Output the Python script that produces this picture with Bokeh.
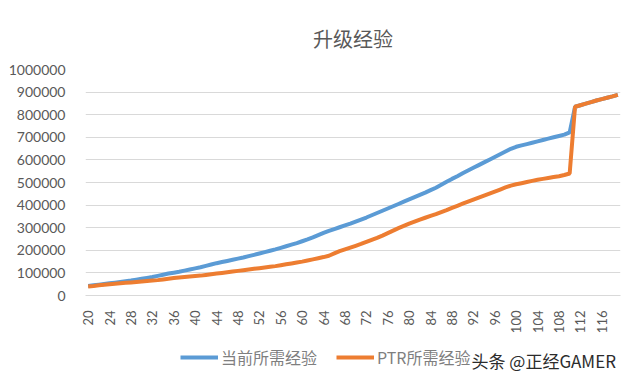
from bokeh.plotting import figure
from bokeh.models import Legend, LegendItem, FixedTicker, Label, Range1d, PrintfTickFormatter
from bokeh.layouts import column
from bokeh.embed import file_html
from bokeh.resources import INLINE
import math

title_text = "升级经验"
series_names = ["当前所需经验", "PTR所需经验"]
watermark_text = "头条 @正经GAMER"

levels = list(range(20, 120))

current_exp = [
    42000, 45000, 48000, 51000, 54000, 57000, 60000, 63000, 66000, 70000,
    74000, 78000, 82000, 87000, 92000, 97000, 101000, 105000, 110000, 115000,
    120000, 125000, 131000, 137000, 143000, 148000, 153000, 158000, 163000, 168000,
    174000, 180000, 186000, 192000, 198000, 204000, 211000, 218000, 225000, 232000,
    240000, 248000, 257000, 267000, 277000, 286000, 294000, 302000, 310000, 318000,
    327000, 336000, 345000, 355000, 365000, 375000, 385000, 395000, 405000, 415000,
    425000, 435000, 445000, 455000, 466000, 477000, 490000, 503000, 516000, 528000,
    541000, 553000, 565000, 577000, 589000, 601000, 613000, 625000, 637000, 649000,
    658000, 664000, 670000, 676000, 682000, 688000, 694000, 700000, 706000, 712000,
    722000, 835000, 842000, 849000, 856000, 863000, 869000, 875000, 881000, 888000,
]

ptr_exp = [
    40000, 42000, 45000, 48000, 50000, 52000, 54000, 56000, 58000, 60000,
    62000, 64000, 66000, 68000, 71000, 74000, 77000, 80000, 82000, 84000,
    86000, 88000, 91000, 94000, 97000, 100000, 103000, 106000, 109000, 112000,
    115000, 118000, 121000, 124000, 127000, 130000, 134000, 138000, 142000, 146000,
    150000, 155000, 160000, 165000, 170000, 176000, 186000, 196000, 204000, 212000,
    220000, 228000, 237000, 246000, 255000, 265000, 276000, 287000, 298000, 308000,
    318000, 327000, 336000, 344000, 352000, 360000, 369000, 378000, 388000, 397000,
    406000, 415000, 424000, 433000, 442000, 451000, 460000, 469000, 478000, 486000,
    492000, 497000, 502000, 507000, 512000, 516000, 520000, 524000, 528000, 533000,
    540000, 835000, 842000, 849000, 856000, 863000, 869000, 875000, 881000, 888000,
]

x_tick_values = [20, 24, 28, 32, 36, 40, 44, 48, 52, 56, 60, 64, 68, 72, 76, 80,
                 84, 88, 92, 96, 100, 104, 108, 112, 116]
y_tick_values = [0, 100000, 200000, 300000, 400000, 500000, 600000, 700000,
                 800000, 900000, 1000000]

colors = ["#5B9BD5", "#ED7D31"]
gray = "#595959"

# ---------------- main chart ----------------
p = figure(width=640, height=336, output_backend="svg", toolbar_location=None,
           x_range=Range1d(19.5, 119.5), y_range=Range1d(0, 1000000),
           min_border_left=85, min_border_right=20, min_border_top=69,
           min_border_bottom=40, title=title_text)

p.title.align = "center"
p.title.text_font = "Noto Sans CJK SC"
p.title.text_font_size = "20px"
p.title.text_font_style = "normal"
p.title.text_color = gray
p.title.standoff = 34

p.outline_line_color = None
p.background_fill_color = "white"
p.border_fill_color = "white"

p.xgrid.grid_line_color = None
p.ygrid.ticker = FixedTicker(ticks=y_tick_values)
p.ygrid.grid_line_color = "#D9D9D9"
p.ygrid.grid_line_width = 1

p.xaxis.ticker = FixedTicker(ticks=x_tick_values)
p.xaxis.major_label_orientation = math.pi / 2
p.xaxis.axis_line_color = "#D9D9D9"
p.xaxis.major_tick_line_color = None
p.xaxis.minor_tick_line_color = None
p.xaxis.major_label_text_font = "Lato"
p.xaxis.major_label_text_font_size = "13px"
p.xaxis.major_label_text_color = gray
p.xaxis.major_label_standoff = 9

p.yaxis.ticker = FixedTicker(ticks=y_tick_values)
p.yaxis.formatter = PrintfTickFormatter(format="%d")
p.yaxis.axis_line_color = None
p.yaxis.major_tick_line_color = None
p.yaxis.minor_tick_line_color = None
p.yaxis.major_label_text_font = "Lato"
p.yaxis.major_label_text_font_size = "14px"
p.yaxis.major_label_text_color = gray
p.yaxis.major_label_standoff = 14

p.line(levels, current_exp, line_color=colors[0], line_width=4)
p.line(levels, ptr_exp, line_color=colors[1], line_width=4)

# ---------------- legend strip (frame aligned with main chart) ----------------
q = figure(width=640, height=48, output_backend="svg", toolbar_location=None,
           x_range=Range1d(0, 1), y_range=Range1d(0, 1),
           x_axis_type=None, y_axis_type=None,
           min_border_left=0, min_border_right=0, min_border_top=0,
           min_border_bottom=0)
q.outline_line_color = None
q.xgrid.grid_line_color = None
q.ygrid.grid_line_color = None
q.background_fill_color = "white"
q.border_fill_color = "white"

# same series, drawn out of this strip's view, only to supply legend glyphs
k1 = q.line(levels, current_exp, line_color=colors[0], line_width=4)
k2 = q.line(levels, ptr_exp, line_color=colors[1], line_width=4)

legend = Legend(items=[LegendItem(label=series_names[0], renderers=[k1]),
                       LegendItem(label=series_names[1], renderers=[k2])],
                location=(95, 15), orientation="horizontal",
                border_line_color=None, background_fill_alpha=0,
                padding=0, margin=0, spacing=19, label_standoff=3,
                glyph_width=38, glyph_height=20,
                label_text_font="Noto Sans CJK SC", label_text_font_size="16px",
                label_text_color="#7F7F7F")
q.add_layout(legend, "center")

wm = Label(x=386, y=24, x_units="screen", y_units="screen",
           text=watermark_text, text_font="Noto Sans CJK SC",
           text_font_size="17px", text_color="#2B2B2B",
           text_baseline="middle", text_align="left")
q.add_layout(wm)

layout = column(p, q, spacing=0)

open("out.html", "w").write(file_html(layout, INLINE))
